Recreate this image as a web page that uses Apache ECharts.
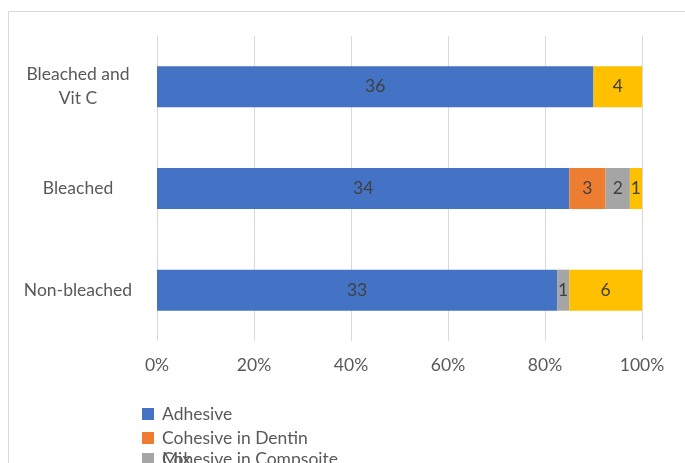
<!DOCTYPE html>
<html>
<head>
<meta charset="utf-8">
<script src="https://cdn.jsdelivr.net/npm/echarts@6/dist/echarts.min.js"></script>
<style>
html,body{margin:0;padding:0;background:#fff;}
#chart{width:685px;height:463px;}
</style>
</head>
<body>
<div id="chart"></div>
<script>
var categories = ['Non-bleached', 'Bleached', 'Bleached and\nVit C'];
var seriesNames = ['Adhesive', 'Cohesive in Dentin', 'Cohesive in Compsoite', 'Mix'];
var adhesive = [33, 34, 36];
var cohesiveDentin = [0, 3, 0];
var cohesiveComposite = [1, 2, 0];
var mix = [6, 1, 4];
var tickLabels = ['0%', '20%', '40%', '60%', '80%', '100%'];
var colors = ['#4472C4', '#ED7D31', '#A5A5A5', '#FFC000'];

var raw = [adhesive, cohesiveDentin, cohesiveComposite, mix];
var totals = categories.map(function (c, i) {
  return raw.reduce(function (s, arr) { return s + arr[i]; }, 0);
});

var FONT = 'Lato';
var FS = 17.5;
var chart = echarts.init(document.getElementById('chart'));

var series = raw.map(function (arr, k) {
  return {
    name: seriesNames[k],
    type: 'bar',
    stack: 'total',
    barWidth: 41,
    itemStyle: { color: colors[k] },
    label: {
      show: true,
      position: 'inside',
      color: '#404040',
      fontFamily: FONT,
      fontSize: FS,
      padding: [3, 0, 0, 0],
      formatter: function (p) { return arr[p.dataIndex] === 0 ? '' : String(arr[p.dataIndex]); }
    },
    data: arr.map(function (v, i) { return v / totals[i] * 100; })
  };
});

function legendItem(name, top, z) {
  return {
    data: [name],
    orient: 'vertical',
    left: 142,
    top: top,
    z: z,
    itemWidth: 12,
    itemHeight: 12,
    itemGap: 0,
    padding: 0,
    selectedMode: false,
    icon: 'rect',
    textStyle: { color: '#595959', fontFamily: FONT, fontSize: FS, padding: [0, 0, 0, 3] }
  };
}

chart.setOption({
  backgroundColor: '#ffffff',
  animation: false,
  color: colors,
  graphic: [{
    type: 'rect',
    shape: { x: 8.5, y: 11.5, width: 700, height: 480 },
    style: { fill: 'none', stroke: '#d9d9d9', lineWidth: 1 },
    silent: true
  }],
  grid: { left: 157, right: 43, top: 36, bottom: 122, containLabel: false },
  legend: [
    legendItem('Mix', 450, 1),
    legendItem('Adhesive', 405, 2),
    legendItem('Cohesive in Dentin', 429, 2),
    legendItem('Cohesive in Compsoite', 450, 3)
  ],
  xAxis: {
    type: 'value',
    min: 0,
    max: 100,
    interval: 20,
    axisLine: { show: false },
    axisTick: { show: false },
    splitLine: { show: true, lineStyle: { color: '#d9d9d9', width: 1 } },
    axisLabel: {
      color: '#595959',
      fontFamily: FONT,
      fontSize: FS,
      margin: 15,
      formatter: function (v) { return tickLabels[Math.round(v / 20)]; }
    }
  },
  yAxis: {
    type: 'category',
    data: categories,
    axisLine: { show: false },
    axisTick: { show: false },
    axisLabel: {
      color: '#595959',
      fontFamily: FONT,
      fontSize: FS,
      lineHeight: 24,
      align: 'center',
      margin: 79,
      padding: [3, 0, 0, 0]
    }
  },
  series: series
});
</script>
</body>
</html>
